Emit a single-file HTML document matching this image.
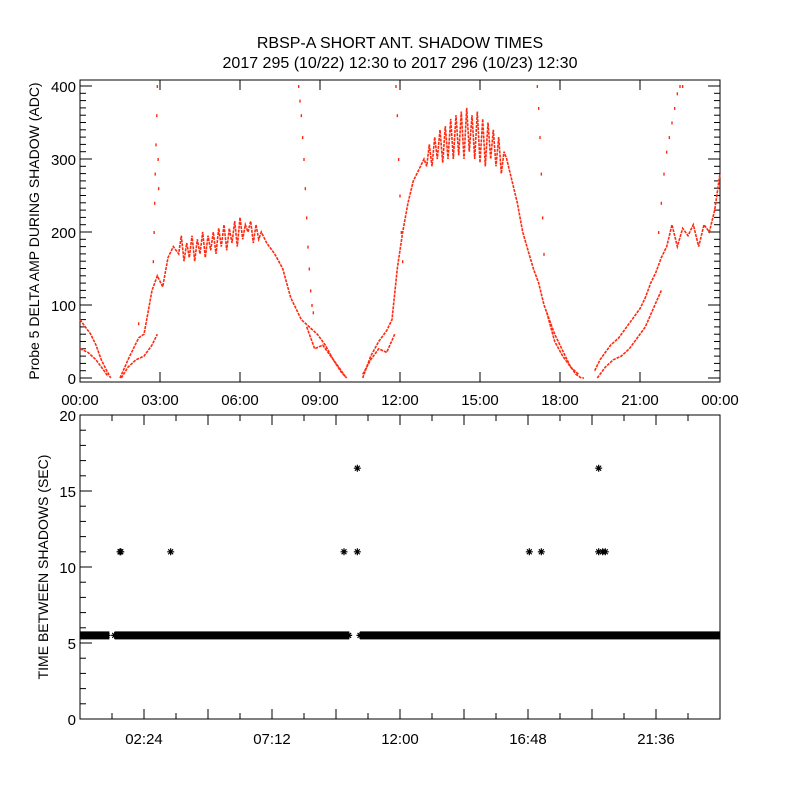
<!DOCTYPE html>
<html><head><meta charset="utf-8"><style>
body{margin:0;background:#fff;}
svg text{font-family:"Liberation Sans",sans-serif;fill:#000;}
</style></head><body>
<svg id="c" width="800" height="800" xmlns="http://www.w3.org/2000/svg">
<defs><clipPath id="botClip"><rect x="80" y="415" width="640" height="304"/></clipPath></defs>
<rect width="800" height="800" fill="#fff"/>
<text x="400" y="48" font-size="16" text-anchor="middle">RBSP-A SHORT ANT. SHADOW TIMES</text>
<text x="400" y="68" font-size="16" text-anchor="middle">2017 295 (10/22) 12:30 to 2017 296 (10/23) 12:30</text>
<g id="topPanel"></g>
<g id="botPanel"></g>
</svg>
<script>
// ---- top panel data (hours, ADC) ----
const upperT=[0,0.2,0.4,0.6,0.8,1.0,1.15,null,1.5,1.8,2.0,2.2,2.4,2.5,2.7,2.9,3.1,3.3,3.5,3.7,3.8,3.9,4.0,4.1,4.2,4.3,4.4,4.5,4.6,4.7,4.8,4.9,5.0,5.1,5.2,5.3,5.4,5.5,5.6,5.7,5.8,5.9,6.0,6.1,6.2,6.3,6.4,6.5,6.6,6.7,6.8,7.0,7.3,7.6,7.9,8.1,8.3,8.6,8.9,9.2,9.5,9.8,10.0,null,10.6,10.9,11.2,11.5,11.7,11.9,12.1,12.3,12.5,12.7,12.9,13.0,13.1,13.2,13.3,13.4,13.5,13.6,13.7,13.8,13.9,14.0,14.1,14.2,14.3,14.4,14.5,14.6,14.7,14.8,14.9,15.0,15.1,15.2,15.3,15.4,15.5,15.6,15.7,15.8,15.9,16.0,16.2,16.4,16.6,16.8,17.0,17.2,17.4,17.6,17.8,18.0,18.2,18.4,18.6,18.8,18.9,null,19.3,19.5,19.7,19.9,20.2,20.5,20.8,21.0,21.2,21.4,21.6,21.8,22.0,22.2,22.4,22.6,22.8,23.0,23.2,23.4,23.6,23.8,24];
const upperV=[80,70,60,45,25,10,0,null,0,25,40,55,60,80,120,140,125,165,180,170,195,160,185,165,195,160,190,170,200,165,195,175,200,170,205,180,210,175,205,185,215,180,220,190,210,200,215,185,210,190,200,185,170,150,110,95,80,70,60,45,25,8,0,null,0,30,50,65,80,150,200,240,270,285,300,290,320,290,330,300,340,295,345,300,355,300,360,305,365,300,370,310,360,300,365,295,355,290,350,300,340,290,330,280,310,300,270,240,200,175,150,130,100,80,60,45,30,15,5,0,null,0,10,25,35,45,55,70,85,95,110,130,145,165,180,210,180,205,195,210,180,210,200,230,280,245];
const lowerT=[0,0.3,0.6,0.9,1.05,null,1.55,1.8,2.1,2.4,2.7,2.9,null,8.5,8.8,9.1,9.4,9.7,9.95,null,10.6,10.9,11.2,11.5,11.8,null,17.5,17.8,18.1,18.4,18.7,null,19.4,19.7,20.0,20.3,20.6,20.9,21.2,21.5,21.8];
const lowerV=[40,35,25,10,2,null,0,15,25,30,45,60,null,70,40,45,30,15,2,null,5,25,40,35,60,null,90,50,30,15,5,null,0,15,25,30,40,55,70,95,120];
const spikeT=[2.75,2.78,2.8,2.82,2.85,2.88,2.9,2.93,2.95,8.2,8.25,8.3,8.35,8.4,8.45,8.5,8.55,8.6,8.65,8.7,8.75,11.85,11.9,11.95,12.0,12.05,12.1,17.15,17.2,17.25,17.3,17.35,17.4,21.7,21.8,21.9,22.0,22.1,22.2,22.3,22.4,22.5,22.6,2.2];
const spikeV=[160,200,240,280,320,360,400,300,260,400,380,360,330,300,260,220,180,150,120,100,90,400,360,300,250,200,160,400,370,330,280,220,170,200,240,280,310,330,350,370,390,400,400,75];
// ---- bottom panel data (hours, seconds) ----
const bandSegments=[[0,1.1],[1.3,10.1],[10.5,24]];
const bandValue=5.5;
const outlierT=[1.5,1.53,3.4,9.9,10.4,16.85,17.3,19.45,19.6,19.7,10.4,19.45];
const outlierV=[11,11,11,11,11,11,11,11,11,11,16.5,16.5];
const topYTicks=[0,100,200,300,400];
const topXLabels=["00:00","03:00","06:00","09:00","12:00","15:00","18:00","21:00","00:00"];
const botYTicks=[0,5,10,15,20];
const botXLabels=["02:24","07:12","12:00","16:48","21:36"];

const NS="http://www.w3.org/2000/svg";
function mk(tag,attrs,parent){const e=document.createElementNS(NS,tag);for(const k in attrs)e.setAttribute(k,attrs[k]);parent.appendChild(e);return e;}
const X0=80,X1=720;
const xs=h=>X0+h*(X1-X0)/24;
const ty=v=>378-v*0.73;
const by=v=>719-v*15.2;
const gTop=document.getElementById('topPanel'),gBot=document.getElementById('botPanel');

// top axes
let r=mk('rect',{x:80,y:80,width:640,height:302,fill:'none',stroke:'#000','stroke-width':1},gTop);


for(let v=0;v<=400;v+=10){const y=ty(v);const L=(v%100===0)?12:6;
 mk('line',{x1:80,x2:80+L,y1:y,y2:y,stroke:'#000'},gTop);mk('line',{x1:720,x2:720-L,y1:y,y2:y,stroke:'#000'},gTop);}
topYTicks.forEach(v=>{const t=mk('text',{x:76,y:ty(v)+6,'font-size':15,'text-anchor':'end'},gTop);t.textContent=v;
 
 });
topXLabels.forEach((s,i)=>{const x=xs(i*3);
 mk('line',{x1:x,x2:x,y1:382,y2:372,stroke:'#000'},gTop);mk('line',{x1:x,x2:x,y1:80,y2:90,stroke:'#000'},gTop);
 const t=mk('text',{x:x,y:405,'font-size':15,'text-anchor':'middle'},gTop);t.textContent=s;
 
 });
let yt=mk('text',{x:0,y:0,'font-size':14,'text-anchor':'middle',transform:'translate(39,231) rotate(-90)'},gTop);
yt.textContent='Probe 5 DELTA AMP DURING SHADOW (ADC)';



function drawLine(T,V,name){let d='',pen=false;
 for(let i=0;i<T.length;i++){if(T[i]===null){pen=false;continue;}d+=(pen?'L':'M')+xs(T[i]).toFixed(1)+' '+ty(V[i]).toFixed(1);pen=true;}
 const p=mk('path',{d:d,fill:'none',stroke:'#ff2a10','stroke-width':1.6,'stroke-dasharray':'3 1'},gTop);
 
 }
drawLine(upperT,upperV,'upper-trace');
drawLine(lowerT,lowerV,'lower-trace');
spikeT.forEach((h,i)=>{const c=mk('rect',{x:xs(h)-0.7,y:ty(spikeV[i])-1,width:1.4,height:3,fill:'#ff2a10'},gTop);
 
 });

// bottom axes
r=mk('rect',{x:80,y:415,width:640,height:304,fill:'none',stroke:'#000','stroke-width':1},gBot);


for(let v=0;v<=20;v++){const y=by(v);const L=(v%5===0)?12:6;
 mk('line',{x1:80,x2:80+L,y1:y,y2:y,stroke:'#000'},gBot);}
botYTicks.forEach(v=>{const t=mk('text',{x:76,y:by(v)+6,'font-size':15,'text-anchor':'end'},gBot);t.textContent=v;
 
 });
for(let k=1;k<20;k++){const x=xs(k*1.2);const L=(k%2===0)?10:6;
 mk('line',{x1:x,x2:x,y1:415,y2:415+L,stroke:'#000'},gBot);mk('line',{x1:x,x2:x,y1:719,y2:719-L,stroke:'#000'},gBot);}
botXLabels.forEach((s,i)=>{const t=mk('text',{x:xs(2.4+i*4.8),y:744,'font-size':15,'text-anchor':'middle'},gBot);t.textContent=s;
 
 });
yt=mk('text',{x:0,y:0,'font-size':14,'text-anchor':'middle',transform:'translate(48,567) rotate(-90)'},gBot);
yt.textContent='TIME BETWEEN SHADOWS (SEC)';



function star(x,y,parent){const s=3.5;
 return mk('path',{d:`M${x-s} ${y}H${x+s}M${x} ${y-s}V${y+s}M${x-s*.7} ${y-s*.7}L${x+s*.7} ${y+s*.7}M${x-s*.7} ${y+s*.7}L${x+s*.7} ${y-s*.7}`,stroke:'#000','stroke-width':1.2},parent);}
const clipG=mk('g',{'clip-path':'url(#botClip)'},gBot);
bandSegments.forEach(seg=>{
 const g=mk('g',{},clipG);
 
 
 const x1=xs(seg[0]),x2=xs(seg[1]),y=by(bandValue);
 mk('rect',{x:x1,y:y-4,width:x2-x1,height:8,fill:'#000'},g);
 for(let x=x1;x<=x2;x+=3)star(x,y,g);
});
outlierT.forEach((h,i)=>{const p=star(xs(h),by(outlierV[i]),gBot);
 
 });
</script>
</body></html>
